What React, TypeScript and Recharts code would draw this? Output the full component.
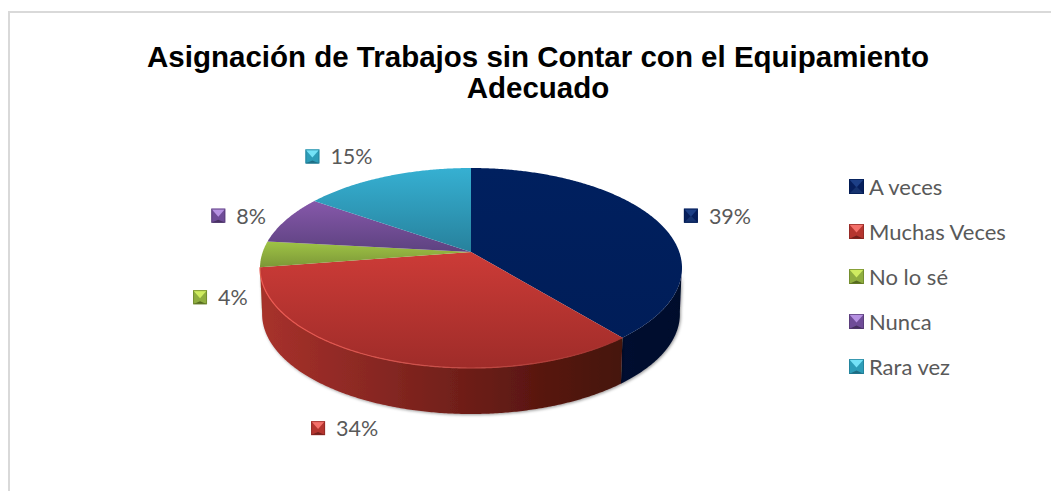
import React from "react";
import { PieChart, Pie, Legend } from "recharts";

const categories = ["A veces", "Muchas Veces", "No lo sé", "Nunca", "Rara vez"];
const shares = [39.0, 33.55, 4.2, 7.9, 15.35];
const titleLines = ["Asignación de Trabajos sin Contar con el Equipamiento", "Adecuado"];

const rows = categories.map((name, i) => ({ name, value: shares[i] }));

const CX = 471;
const CY = 268;
const RY = 100;
const RX = 211;
const DEPTH = 46;
const TILT = 0.16;
const FONT = "Lato, 'Noto Sans', sans-serif";

const topStops = [
  ["#00205f", "#001d58"],
  ["#cc3b37", "#9f2c29"],
  ["#9fc446", "#7c9737"],
  ["#8658aa", "#5d4280"],
  ["#36b0d2", "#27819c"],
];
const sideStops = [
  [["0", "#000d30"], ["1", "#000c2c"]],
  [["0", "#a8312b"], ["0.3", "#8a2823"], ["0.8", "#56160f"], ["1", "#45120e"]],
  [["0", "#6c832e"], ["1", "#6c832e"]],
  [["0", "#4e3570"], ["1", "#4e3570"]],
  [["0", "#1f6f86"], ["1", "#1f6f86"]],
];
const markerTones = [
  { top: "#1d3f86", side: "#071f5c", bottom: "#16336f", edge: "#001a50", notch: 0 },
  { top: "#f4706a", side: "#b5352f", bottom: "#74201c", edge: "#8a2824", notch: 4 },
  { top: "#cfec60", side: "#8fae3f", bottom: "#566a20", edge: "#6a8229", notch: 4 },
  { top: "#b691e2", side: "#6f4c98", bottom: "#46305f", edge: "#523970", notch: 4 },
  { top: "#74e2f7", side: "#2d9db8", bottom: "#1e6c83", edge: "#217a93", notch: 4 },
];
const labelShift = [
  [27, -5],
  [-73, 69],
  [-69, 43],
  [-75, -4],
  [-81, -20],
];

function project(theta: number, r = 1) {
  const rad = (theta * Math.PI) / 180;
  const u = r * Math.sin(rad);
  const v = r * Math.cos(rad);
  const d = 1 + v * TILT;
  const vp = (v + TILT) / d;
  const up = (u * Math.sqrt(1 - TILT * TILT)) / d;
  return { x: CX + RX * up, y: CY - RY * vp };
}

function Sector3D(props: any) {
  const { startAngle, endAngle, index } = props;
  const a = 90 - startAngle;
  const b = 90 - endAngle;
  const steps = Math.max(4, Math.ceil(Math.abs(b - a) * 2));
  const rim = Array.from({ length: steps + 1 }, (_, k) => project(a + ((b - a) * k) / steps));
  const apex = project(0, 0);
  const top = `M${apex.x},${apex.y} ` + rim.map((p) => `L${p.x},${p.y}`).join(" ") + " Z";
  const front = rim.filter((p) => p.y >= CY - 3);
  const down = (p: { x: number; y: number }) => ({ x: CX + (p.x - CX) * 0.99, y: p.y + DEPTH });
  const side =
    front.length > 1
      ? "M" +
        front.map((p) => `${p.x},${p.y}`).join(" L") +
        " L" +
        [...front].reverse().map((p) => { const q = down(p); return `${q.x},${q.y}`; }).join(" L") +
        " Z"
      : null;
  const edge = front.length > 1 ? "M" + front.map((p) => `${p.x},${p.y}`).join(" L") : null;
  return (
    <g>
      <defs>
        <linearGradient id={`top${index}`} x1="0" y1="0" x2="0" y2="1">
          <stop offset="0" stopColor={topStops[index][0]} />
          <stop offset="1" stopColor={topStops[index][1]} />
        </linearGradient>
        <linearGradient id={`side${index}`} x1="0" y1="0" x2="1" y2="0">
          {sideStops[index].map(([o, c]) => (
            <stop key={o} offset={o} stopColor={c} />
          ))}
        </linearGradient>
        <linearGradient id="rimLight" x1="0" y1="0" x2="1" y2="0">
          <stop offset="0" stopColor="#ef5a52" />
          <stop offset="0.5" stopColor="#c9504a" />
          <stop offset="1" stopColor="#9f2f2b" />
        </linearGradient>
        <filter id="softShadow" x="-10%" y="-10%" width="120%" height="130%">
          <feDropShadow dx="1" dy="1" stdDeviation="1.8" floodColor="#000" floodOpacity="0.4" />
        </filter>
      </defs>
      {side && <path d={side} fill={`url(#side${index})`} filter="url(#softShadow)" />}
      <path d={top} fill={`url(#top${index})`} />
      {edge && index === 1 && <path d={edge} fill="none" stroke="url(#rimLight)" strokeWidth={1.2} />}
    </g>
  );
}

function Marker({ tone, size = 14 }: { tone: (typeof markerTones)[number]; size?: number }) {
  const s = size;
  const c = s / 2;
  return (
    <>
      <rect x={0} y={0} width={s} height={s} fill={tone.side} />
      <polygon points={`0,0 ${s},0 ${c},${c + 1}`} fill={tone.top} />
      <polygon points={`0,${s} ${s},${s} ${c},${c + tone.notch}`} fill={tone.bottom} />
      <rect x={0.5} y={0.5} width={s - 1} height={s - 1} fill="none" stroke={tone.edge} strokeOpacity={0.7} strokeWidth={1} />
    </>
  );
}

function renderLabel(props: any) {
  const { midAngle, percent, index } = props;
  const p = project(90 - midAngle);
  const [dx, dy] = labelShift[index];
  const x = p.x + dx;
  const y = p.y + dy;
  return (
    <g key={index}>
      <g transform={`translate(${x},${y - 7})`}>
        <Marker tone={markerTones[index]} />
      </g>
      <text x={x + 25} y={y + 8} fontFamily={FONT} fontSize={21.5} fill="#595959">
        {`${Math.round(percent * 100)}%`}
      </text>
    </g>
  );
}

function LegendBox(props: any) {
  const items = props.payload ?? [];
  return (
    <div>
      {items.map((it: any, i: number) => (
        <div
          key={it.value}
          style={{ display: "flex", alignItems: "center", height: 45, fontFamily: FONT, fontSize: 22, color: "#595959" }}
        >
          <svg width={15} height={15} style={{ marginRight: 5 }}>
            <Marker tone={markerTones[i]} size={15} />
          </svg>
          {it.value}
        </div>
      ))}
    </div>
  );
}

export default function App() {
  return (
    <div style={{ position: "absolute", left: 0, top: 0, width: 1051, height: 491, overflow: "hidden", background: "#fff" }}>
      <div
        style={{
          position: "absolute",
          left: 8,
          top: 11,
          right: 0,
          bottom: 0,
          borderLeft: "2px solid #d9d9d9",
          borderTop: "2px solid #d9d9d9",
        }}
      />
      <div style={{ position: "absolute", left: 0, top: 0 }}>
        <PieChart width={1051} height={491} margin={{ top: 0, right: 0, bottom: 0, left: 0 }}>
          <text textAnchor="middle" fontFamily="'Liberation Sans', Arial, sans-serif" fontWeight="bold" fontSize={29.5} fill="#000">
            <tspan x={538} y={67}>{titleLines[0]}</tspan>
            <tspan x={538} y={98}>{titleLines[1]}</tspan>
          </text>
          <Pie
            data={rows}
            dataKey="value"
            nameKey="name"
            cx={CX}
            cy={CY}
            outerRadius={RY}
            startAngle={90}
            endAngle={-270}
            stroke="none"
            isAnimationActive={false}
            shape={Sector3D}
            label={renderLabel}
            labelLine={false}
          />
          <Legend
            layout="vertical"
            align="right"
            verticalAlign="top"
            content={LegendBox}
            wrapperStyle={{ position: "absolute", left: 849, top: 164, width: 190, right: "auto" }}
          />
        </PieChart>
      </div>
    </div>
  );
}
